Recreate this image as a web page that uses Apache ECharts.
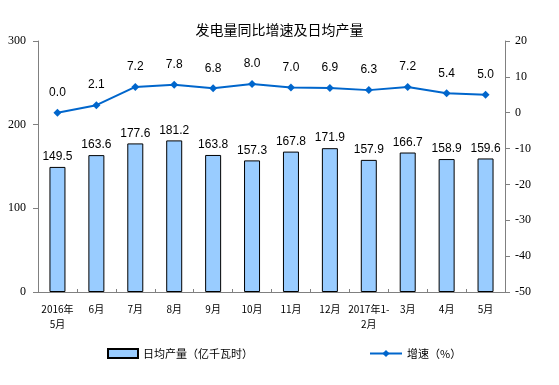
<!DOCTYPE html>
<html><head><meta charset="utf-8">
<script src="https://cdn.jsdelivr.net/npm/echarts@6/dist/echarts.min.js"></script>
<style>html,body{margin:0;padding:0;background:#fff}#c{width:559px;height:385px}</style>
</head><body><div id="c"></div>
<script>
var categories = ['2016年\n5月','6月','7月','8月','9月','10月','11月','12月','2017年1-\n2月','3月','4月','5月'];
var dailyOutput = [149.5,163.6,177.6,181.2,163.8,157.3,167.8,171.9,157.9,166.7,158.9,159.6];
var growthRate = [0.0,2.1,7.2,7.8,6.8,8.0,7.0,6.9,6.3,7.2,5.4,5.0];
var leftTicks = [0,100,200,300];
var rightTicks = [-50,-40,-30,-20,-10,0,10,20];

var chart = echarts.init(document.getElementById('c'), null, {renderer:'canvas'});
var axisLineStyle = {color:'#808080', width:1};
var legendText = {fontSize:11, color:'#000', fontFamily:'Noto Sans CJK SC'};
chart.setOption({
  animation:false,
  title:{text:'发电量同比增速及日均产量', left:'center', top:18, textStyle:{fontSize:14, fontWeight:'normal', color:'#000', fontFamily:'Noto Sans CJK SC'}},
  legend:[
    {top:343, left:102, itemWidth:30, itemHeight:9, itemGap:2, textStyle:legendText,
     data:[{name:'日均产量（亿千瓦时）', icon:'rect'}]},
    {top:343, left:364, itemWidth:32, itemHeight:9, itemGap:2, textStyle:legendText,
     data:[{name:'增速（%）'}]}
  ],
  grid:{left:38, right:54, top:41, bottom:93},
  xAxis:{type:'category', data:categories, boundaryGap:true,
    axisLine:{lineStyle:axisLineStyle}, axisTick:{show:true, length:3, lineStyle:axisLineStyle, inside:true},
    axisLabel:{fontSize:10, color:'#000', fontFamily:'Noto Sans CJK SC', margin:10, lineHeight:15, interval:0}},
  yAxis:[
    {type:'value', min:0, max:300, interval:100, splitLine:{show:false},
     axisLine:{show:true, lineStyle:axisLineStyle}, axisTick:{show:true, length:5, lineStyle:axisLineStyle},
     axisLabel:{fontSize:12, color:'#000', fontFamily:'Liberation Serif', margin:12, formatter:function(v){return leftTicks.indexOf(v)>=0?String(v):'';}}},
    {type:'value', min:-50, max:20, interval:10, splitLine:{show:false},
     axisLine:{show:true, lineStyle:axisLineStyle}, axisTick:{show:true, length:5, lineStyle:axisLineStyle},
     axisLabel:{fontSize:12, color:'#000', fontFamily:'Liberation Serif', margin:10, formatter:function(v){return rightTicks.indexOf(v)>=0?String(v):'';}}}
  ],
  series:[
    {name:'日均产量（亿千瓦时）', type:'bar', yAxisIndex:0, data:dailyOutput, barWidth:16,
     itemStyle:{color:'#99CCFF', borderColor:'#000', borderWidth:1},
     label:{show:true, position:'top', distance:4, fontSize:12, color:'#000', fontFamily:'Liberation Sans', formatter:function(p){return p.value.toFixed(1);}}},
    {name:'增速（%）', type:'line', yAxisIndex:1, data:growthRate,
     symbol:'diamond', symbolSize:8, lineStyle:{color:'#0066CC', width:2}, itemStyle:{color:'#0066CC'},
     label:{show:true, position:'top', distance:10, fontSize:12, color:'#000', fontFamily:'Liberation Sans', formatter:function(p){return p.value.toFixed(1);}}}
  ]
});
</script></body></html>
